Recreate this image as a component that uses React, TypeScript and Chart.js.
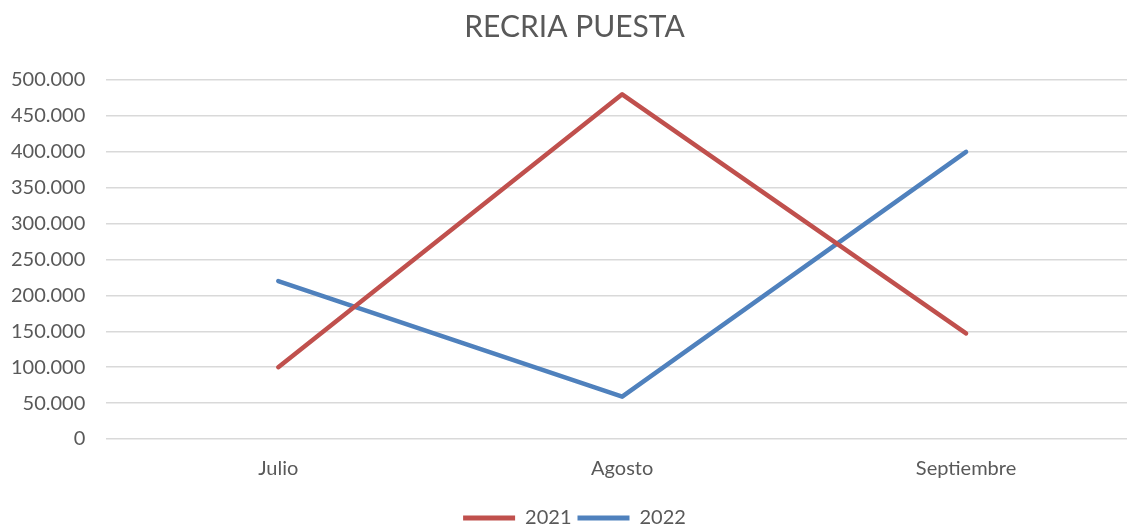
import React, { useEffect, useRef } from "react";
import { Chart, registerables } from "chart.js";

Chart.register(...registerables);

const categories = ["Julio", "Agosto", "Septiembre"];
const series2021 = [100000, 480000, 147000];
const series2022 = [220000, 59000, 400000];
const yTicks = { min: 0, max: 500000, step: 50000 };

const RED = "#C0504D";
const BLUE = "#4F81BD";
const TEXT = "#595959";
const FONT = "Lato";

function fmt(v: number): string {
  return String(Math.round(v)).replace(/\B(?=(\d{3})+(?!\d))/g, ".");
}

export default function App() {
  const ref = useRef<HTMLCanvasElement | null>(null);
  useEffect(() => {
    if (!ref.current) return;
    const chart = new Chart(ref.current, {
      type: "line",
      data: {
        labels: categories,
        datasets: [
          {
            label: "2021",
            data: series2021,
            borderColor: RED,
            backgroundColor: RED,
            borderWidth: 4.5,
            pointRadius: 0,
            borderCapStyle: "round",
            borderJoinStyle: "round",
            tension: 0,
          },
          {
            label: "2022",
            data: series2022,
            borderColor: BLUE,
            backgroundColor: BLUE,
            borderWidth: 4.5,
            pointRadius: 0,
            borderCapStyle: "round",
            borderJoinStyle: "round",
            tension: 0,
          },
        ],
      },
      options: {
        responsive: false,
        animation: false,
        layout: { padding: { top: 9, left: 11, right: 22, bottom: 0 } },
        plugins: {
          title: {
            display: true,
            text: "RECRIA PUESTA",
            color: TEXT,
            font: { family: FONT, size: 30, weight: "normal" },
            padding: { top: 0, bottom: 35 },
          },
          legend: {
            position: "bottom",
            labels: {
              color: TEXT,
              font: { family: FONT, size: 20 },
              boxWidth: 52,
              boxHeight: 5,
              useBorderRadius: true,
              borderRadius: 2.5,
              padding: 6,
              generateLabels: (c: any) =>
                c.data.datasets.map((d: any, i: number) => ({
                  text: d.label,
                  fillStyle: d.borderColor,
                  strokeStyle: d.borderColor,
                  lineWidth: 0,
                  fontColor: TEXT,
                  datasetIndex: i,
                  hidden: false,
                })),
            },
          },
          tooltip: { enabled: false },
        },
        scales: {
          x: {
            offset: true,
            grid: { display: false, drawTicks: false },
            border: { display: false },
            ticks: {
              color: TEXT,
              font: { family: FONT, size: 20 },
              padding: 18,
            },
            afterFit: (s: any) => {
              s.height += 3;
            },
          },
          y: {
            min: yTicks.min,
            max: yTicks.max,
            grid: { color: "#D9D9D9", lineWidth: 1.5, drawTicks: false },
            border: { display: false },
            ticks: {
              stepSize: yTicks.step,
              color: TEXT,
              font: { family: FONT, size: 20 },
              padding: 21,
              callback: (v: any) => fmt(Number(v)),
            },
            afterFit: (s: any) => {
              s.width -= 21;
            },
          },
        },
      },
    });
    return () => chart.destroy();
  }, []);
  return (
    <div
      style={{
        position: "fixed",
        left: 0,
        top: 0,
        width: 1127,
        height: 524,
        overflow: "hidden",
        background: "#fff",
      }}
    >
      <canvas ref={ref} width={1160} height={538} style={{ display: "block" }} />
    </div>
  );
}
